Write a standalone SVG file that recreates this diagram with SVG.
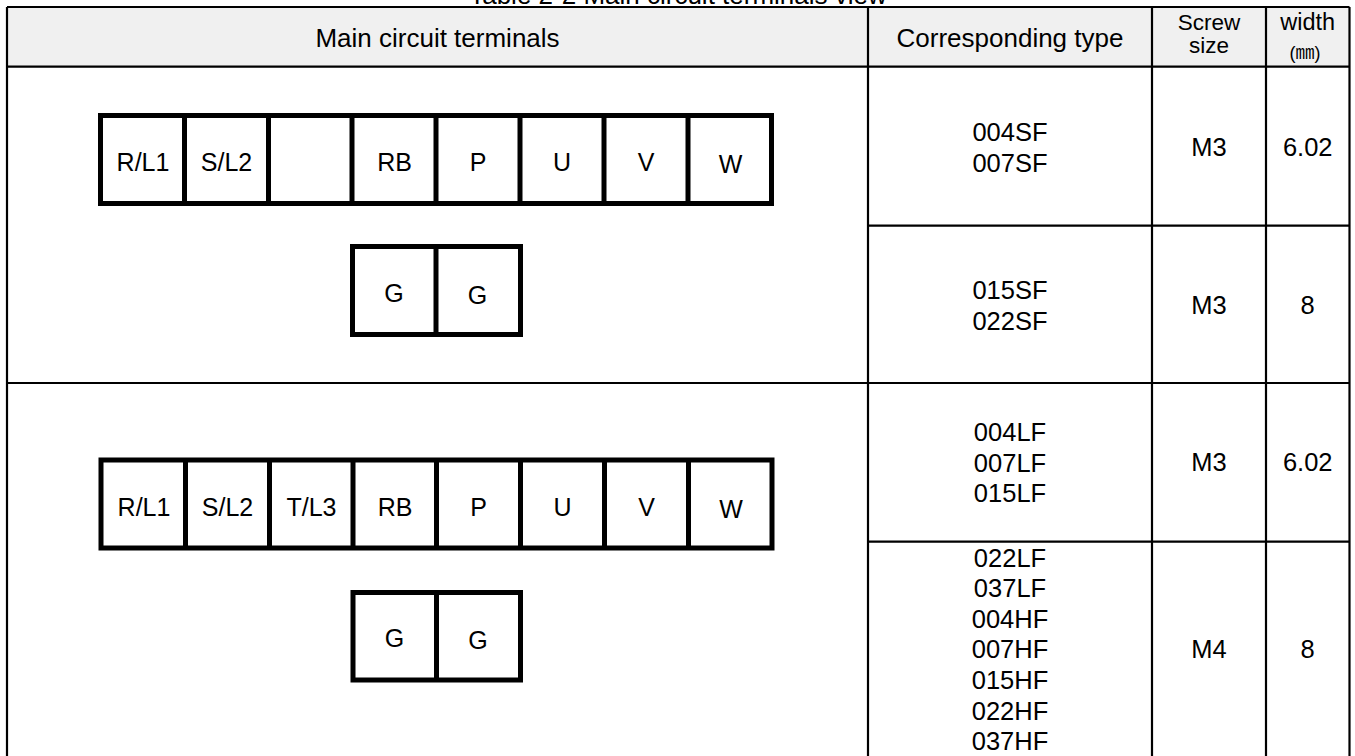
<svg xmlns="http://www.w3.org/2000/svg" width="1355" height="756" viewBox="0 0 1355 756">
<style>
.t{font-family:"Liberation Sans",Arial,sans-serif;fill:#000;text-anchor:middle}
.hd{font-size:26px}
.dt{font-size:25.5px}
.lb{font-size:25px}
.grid{stroke:#000;stroke-width:2.2;fill:none}
.box{stroke:#000;stroke-width:5;fill:#fff}
.div{stroke:#000;stroke-width:5}
</style>
<rect width="1355" height="756" fill="#fff"/>
<text class="t hd" x="678" y="4">Table 2-2 Main circuit terminals view</text>
<g id="table">
  <rect x="7" y="7" width="1342.5" height="59.7" fill="#f0f0f0"/>
  <path class="grid" d="M7 7H1349.5M7 66.7H1349.5M7 383H1349.5M868 225.7H1349.5M868 541.7H1349.5M7 7V760M868 7V760M1152 7V760M1266 7V760M1349.5 7V760M7 757H1349.5"/>
  <text class="t hd" x="437.5" y="46.5">Main circuit terminals</text>
  <text class="t hd" x="1010" y="46.5">Corresponding type</text>
  <text class="t" font-size="22.5" x="1209" y="30">Screw</text>
  <text class="t" font-size="22.5" x="1209" y="52.7">size</text>
  <text class="t" font-size="23.5" x="1307.7" y="30">width</text>
  <text class="t" font-size="18" x="1305" y="59">(<tspan font-family="'Noto Sans CJK KR',sans-serif" font-size="19">㎜</tspan>)</text>
</g>
<g id="row-sf1">
  <text class="t dt" x="1010" y="140.7">004SF</text>
  <text class="t dt" x="1010" y="171.7">007SF</text>
  <text class="t dt" x="1209" y="156">M3</text>
  <text class="t dt" x="1307.7" y="156">6.02</text>
</g>
<g id="row-sf2">
  <text class="t dt" x="1010" y="299">015SF</text>
  <text class="t dt" x="1010" y="330">022SF</text>
  <text class="t dt" x="1209" y="314">M3</text>
  <text class="t dt" x="1307.7" y="314">8</text>
</g>
<g id="row-lf1">
  <text class="t dt" x="1010" y="440.7">004LF</text>
  <text class="t dt" x="1010" y="471.5">007LF</text>
  <text class="t dt" x="1010" y="502.3">015LF</text>
  <text class="t dt" x="1209" y="470.7">M3</text>
  <text class="t dt" x="1307.7" y="470.7">6.02</text>
</g>
<g id="row-lf2">
  <text class="t dt" x="1010" y="566.7">022LF</text>
  <text class="t dt" x="1010" y="597.3">037LF</text>
  <text class="t dt" x="1010" y="627.8">004HF</text>
  <text class="t dt" x="1010" y="658.4">007HF</text>
  <text class="t dt" x="1010" y="688.9">015HF</text>
  <text class="t dt" x="1010" y="719.5">022HF</text>
  <text class="t dt" x="1010" y="750">037HF</text>
  <text class="t dt" x="1209" y="657.7">M4</text>
  <text class="t dt" x="1307.7" y="657.7">8</text>
</g>
<g id="terminals-s">
  <rect class="box" x="100.5" y="115.5" width="671" height="88"/>
  <path class="div" d="M184.5 115.5V203.5M268.5 115.5V203.5M352 115.5V203.5M436 115.5V203.5M520 115.5V203.5M604 115.5V203.5M688 115.5V203.5"/>
  <text class="t lb" x="143" y="170.5">R/L1</text>
  <text class="t lb" x="226.5" y="170.5">S/L2</text>
  <text class="t lb" x="394.5" y="170.5">RB</text>
  <text class="t lb" x="478" y="170.5">P</text>
  <text class="t lb" x="562" y="170.5">U</text>
  <text class="t lb" x="646" y="170.5">V</text>
  <text class="t lb" x="730.5" y="172.5">W</text>
</g>
<g id="ground-s">
  <rect class="box" x="352.5" y="246.5" width="168" height="88"/>
  <path class="div" d="M436 246.5V334.5"/>
  <text class="t lb" x="394" y="301.5">G</text>
  <text class="t lb" x="477.5" y="303.5">G</text>
</g>
<g id="terminals-l">
  <rect class="box" x="101" y="460" width="671" height="88"/>
  <path class="div" d="M185.5 460V548M269.5 460V548M353 460V548M436.5 460V548M520.5 460V548M604.5 460V548M688.5 460V548"/>
  <text class="t lb" x="144" y="515.7">R/L1</text>
  <text class="t lb" x="227.5" y="515.7">S/L2</text>
  <text class="t lb" x="311.5" y="515.7">T/L3</text>
  <text class="t lb" x="395" y="515.7">RB</text>
  <text class="t lb" x="478.5" y="515.7">P</text>
  <text class="t lb" x="562.5" y="515.7">U</text>
  <text class="t lb" x="646.5" y="515.7">V</text>
  <text class="t lb" x="731" y="517.7">W</text>
</g>
<g id="ground-l">
  <rect class="box" x="353" y="592.5" width="167.5" height="87.5"/>
  <path class="div" d="M436.5 592.5V680"/>
  <text class="t lb" x="394.5" y="646.5">G</text>
  <text class="t lb" x="478" y="649">G</text>
</g>
</svg>
